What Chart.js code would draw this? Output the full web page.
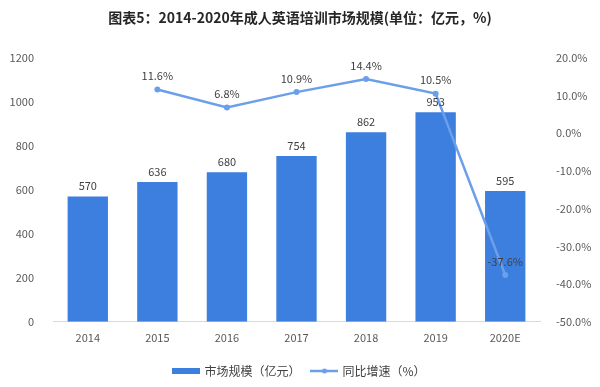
<!DOCTYPE html>
<html>
<head>
<meta charset="utf-8">
<script src="https://cdn.jsdelivr.net/npm/chart.js@4/dist/chart.umd.min.js"></script>
<style>
  html, body { margin: 0; padding: 0; background: #fff; }
  #wrap { width: 600px; height: 387px; position: relative; }
</style>
</head>
<body>
<div id="wrap"><canvas id="marketChart"></canvas></div>
<script>
const years = ['2014', '2015', '2016', '2017', '2018', '2019', '2020E'];
const marketSize = [570, 636, 680, 754, 862, 953, 595];
const growthRate = [null, 11.6, 6.8, 10.9, 14.4, 10.5, -37.6];
const leftTicks = [0, 200, 400, 600, 800, 1000, 1200];
const rightTicks = [-50, -40, -30, -20, -10, 0, 10, 20];

const barColor = '#3D7FDE';
const lineColor = '#6C9FEA';
const fontFamily = '"Microsoft YaHei", "Noto Sans CJK SC", "Noto Sans", sans-serif';

function legendIcon(kind) {
    const c = document.createElement('canvas');
    c.width = 28; c.height = 10;
    const g = c.getContext('2d');
    if (kind === 'bar') {
        g.fillStyle = barColor;
        g.fillRect(0, 2, 28, 6);
    } else {
        g.strokeStyle = lineColor;
        g.lineWidth = 2.5;
        g.beginPath(); g.moveTo(0, 5); g.lineTo(28, 5); g.stroke();
        g.fillStyle = lineColor;
        g.beginPath(); g.arc(14, 5, 2.5, 0, Math.PI * 2); g.fill();
    }
    return c;
}

const valueLabels = {
    id: 'valueLabels',
    afterDatasetsDraw(chart) {
        const ctx = chart.ctx;
        ctx.save();
        ctx.font = '11px ' + fontFamily;
        ctx.fillStyle = '#404040';
        ctx.textAlign = 'center';
        ctx.textBaseline = 'bottom';
        // dataset 1 = bars, dataset 0 = line
        chart.getDatasetMeta(1).data.forEach((bar, i) => {
            ctx.fillText(String(marketSize[i]), bar.x, bar.y - 5);
        });
        chart.getDatasetMeta(0).data.forEach((pt, i) => {
            if (growthRate[i] === null) return;
            ctx.fillText(growthRate[i].toFixed(1) + '%', pt.x, pt.y - 8);
        });
        ctx.restore();
    }
};

new Chart(document.getElementById('marketChart'), {
    data: {
        labels: years,
        datasets: [
            {
                type: 'line',
                label: '同比增速（%）',
                data: growthRate,
                yAxisID: 'yRight',
                borderColor: lineColor,
                backgroundColor: lineColor,
                borderWidth: 2.5,
                pointRadius: 3,
                pointBackgroundColor: lineColor,
                pointBorderWidth: 0,
                tension: 0,
                order: 0
            },
            {
                type: 'bar',
                label: '市场规模（亿元）',
                data: marketSize,
                yAxisID: 'yLeft',
                backgroundColor: barColor,
                categoryPercentage: 1,
                barPercentage: 0.58,
                order: 1
            }
        ]
    },
    options: {
        responsive: true,
        maintainAspectRatio: false,
        animation: false,
        layout: { padding: { top: 0, left: 0, right: 0, bottom: 0 } },
        plugins: {
            title: {
                display: true,
                text: '图表5：2014-2020年成人英语培训市场规模(单位：亿元，%)',
                color: '#262626',
                font: { family: fontFamily, size: 14, weight: 'bold' },
                padding: { top: 9, bottom: 32 }
            },
            legend: {
                position: 'bottom',
                labels: {
                    usePointStyle: true,
                    pointStyleWidth: 24,
                    color: '#404040',
                    font: { family: fontFamily, size: 12 },
                    padding: 12,
                    generateLabels() {
                        return [
                            { text: '市场规模（亿元）', pointStyle: legendIcon('bar'), datasetIndex: 1, fontColor: '#404040' },
                            { text: '同比增速（%）', pointStyle: legendIcon('line'), datasetIndex: 0, fontColor: '#404040' }
                        ];
                    }
                }
            },
            tooltip: { enabled: false }
        },
        scales: {
            x: {
                grid: { display: false, drawTicks: false },
                border: { display: true, color: '#D9D9D9' },
                ticks: { color: '#595959', font: { family: fontFamily, size: 11 }, padding: 9 }
            },
            yLeft: {
                position: 'left',
                min: 0,
                max: 1200,
                afterBuildTicks(axis) { axis.ticks = leftTicks.map(v => ({ value: v })); },
                afterFit(axis) { axis.width = 53; },
                grid: { display: false },
                border: { display: false },
                ticks: {
                    color: '#595959',
                    font: { family: fontFamily, size: 11 },
                    padding: 11,
                    callback: v => String(v)
                }
            },
            yRight: {
                position: 'right',
                min: -50,
                max: 20,
                afterBuildTicks(axis) { axis.ticks = rightTicks.map(v => ({ value: v })); },
                afterFit(axis) { axis.width = 60; },
                grid: { display: false },
                border: { display: false },
                ticks: {
                    color: '#595959',
                    font: { family: fontFamily, size: 11 },
                    padding: 8,
                    callback: v => v.toFixed(1) + '%'
                }
            }
        }
    },
    plugins: [valueLabels]
});
</script>
</body>
</html>
